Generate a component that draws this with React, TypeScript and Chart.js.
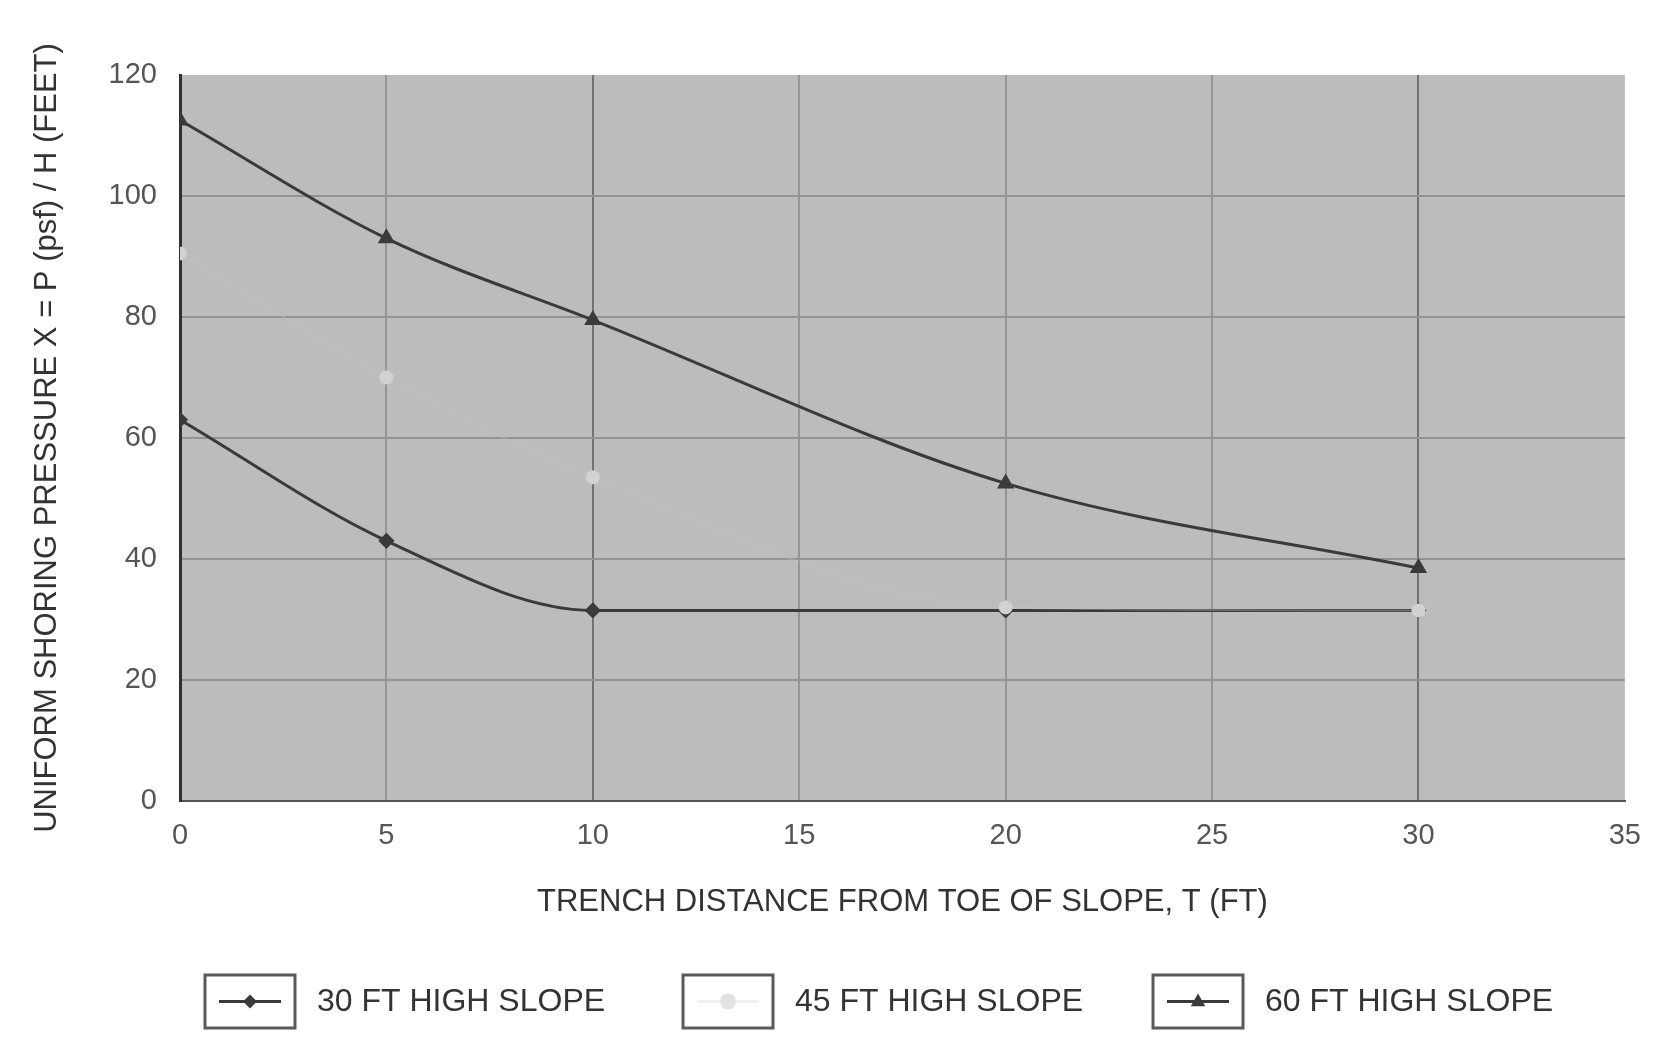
import React, { useEffect, useRef } from "react";
import { Chart, registerables } from "chart.js";

Chart.register(...registerables);

const distances = [0, 5, 10, 20, 30];
const slope30 = [63, 43, 31.5, 31.5, 31.5];
const slope45 = [90.5, 70, 53.5, 32, 31.5];
const slope60 = [112.5, 93, 79.5, 52.5, 38.5];
const seriesLabels = ["30 FT HIGH SLOPE", "45 FT HIGH SLOPE", "60 FT HIGH SLOPE"];
const xTitle = "TRENCH DISTANCE FROM TOE OF SLOPE, T (FT)";
const yTitle = "UNIFORM SHORING PRESSURE X = P (psf) / H (FEET)";

const FONT = "'Liberation Sans', Arial, sans-serif";
const DARK = "#3a3a3a";
const LIGHT = "#d2d2d2";

function drawMarker(ctx: CanvasRenderingContext2D, style: string, x: number, y: number, r: number, color: string) {
  ctx.save();
  ctx.fillStyle = color;
  ctx.beginPath();
  if (style === "rectRot") {
    ctx.moveTo(x, y - r);
    ctx.lineTo(x + r, y);
    ctx.lineTo(x, y + r);
    ctx.lineTo(x - r, y);
  } else if (style === "triangle") {
    ctx.moveTo(x, y - r);
    ctx.lineTo(x + r * 0.9, y + r * 0.6);
    ctx.lineTo(x - r * 0.9, y + r * 0.6);
  } else {
    ctx.arc(x, y, r, 0, Math.PI * 2);
  }
  ctx.closePath();
  ctx.fill();
  ctx.restore();
}

const bgPlugin = {
  id: "plotBg",
  beforeDraw(chart: any) {
    const { ctx, chartArea } = chart;
    ctx.save();
    ctx.fillStyle = "#bcbcbc";
    ctx.fillRect(chartArea.left, chartArea.top, chartArea.right - chartArea.left, chartArea.bottom - chartArea.top);
    ctx.restore();
  },
};

const boxLegendPlugin = {
  id: "boxLegend",
  afterDraw(chart: any) {
    const ctx: CanvasRenderingContext2D = chart.ctx;
    const boxX = [205, 683, 1153];
    const boxW = 90;
    const boxTop = 975;
    const boxH = 53;
    const cy = boxTop + boxH / 2;
    chart.data.datasets.forEach((ds: any, i: number) => {
      const bx = boxX[i];
      ctx.save();
      ctx.strokeStyle = "#5a5a5a";
      ctx.lineWidth = 3;
      ctx.strokeRect(bx, boxTop, boxW, boxH);
      ctx.strokeStyle = ds.legendLine;
      ctx.lineWidth = 3;
      ctx.beginPath();
      ctx.moveTo(bx + 14, cy);
      ctx.lineTo(bx + boxW - 14, cy);
      ctx.stroke();
      drawMarker(ctx, ds.pointStyle, bx + boxW / 2, cy, ds.pointRadius + 1, ds.legendMarker);
      ctx.fillStyle = "#333";
      ctx.font = `32px ${FONT}`;
      ctx.textBaseline = "middle";
      ctx.textAlign = "left";
      ctx.fillText(ds.label, bx + boxW + 22, cy + 1);
      ctx.restore();
    });
  },
};

export default function App() {
  const ref = useRef<HTMLCanvasElement>(null);

  useEffect(() => {
    if (!ref.current) return;
    const toPts = (ys: number[]) => distances.map((x, i) => ({ x, y: ys[i] }));
    const chart = new Chart(ref.current, {
      type: "line",
      data: {
        datasets: [
          {
            label: seriesLabels[0],
            data: toPts(slope30),
            borderColor: DARK,
            backgroundColor: DARK,
            borderWidth: 3,
            pointStyle: "rectRot",
            pointRadius: 6,
            pointBackgroundColor: DARK,
            pointBorderColor: DARK,
            cubicInterpolationMode: "monotone",
            order: 1,
            legendLine: DARK,
            legendMarker: DARK,
          } as any,
          {
            label: seriesLabels[1],
            data: toPts(slope45),
            borderColor: "rgba(196,196,196,0.35)",
            backgroundColor: LIGHT,
            borderWidth: 2,
            pointStyle: "circle",
            pointRadius: 7,
            pointBackgroundColor: LIGHT,
            pointBorderColor: LIGHT,
            pointBorderWidth: 0,
            cubicInterpolationMode: "monotone",
            order: 0,
            legendLine: "rgba(235,235,235,0.7)",
            legendMarker: "#e2e2e2",
          } as any,
          {
            label: seriesLabels[2],
            data: toPts(slope60),
            borderColor: DARK,
            backgroundColor: DARK,
            borderWidth: 3,
            pointStyle: "triangle",
            pointRadius: 7,
            pointBackgroundColor: DARK,
            pointBorderColor: DARK,
            cubicInterpolationMode: "monotone",
            order: 2,
            legendLine: DARK,
            legendMarker: DARK,
          } as any,
        ],
      },
      options: {
        responsive: false,
        animation: false,
        events: [],
        layout: { padding: { left: 14, right: 31, top: 75, bottom: 105 } },
        plugins: { legend: { display: false }, tooltip: { enabled: false } },
        scales: {
          x: {
            type: "linear",
            min: 0,
            max: 35,
            ticks: { stepSize: 5, padding: 18, color: "#555", font: { size: 29, family: FONT } },
            grid: {
              drawTicks: false,
              lineWidth: 2,
              color: (c: any) => {
                const v = c.tick ? c.tick.value : -1;
                if (v === 0 || v === 35) return "rgba(0,0,0,0)";
                if (v === 10 || v === 30) return "#727272";
                return "#959595";
              },
            },
            border: { display: true, color: "#555", width: 2 },
            title: {
              display: true,
              text: xTitle,
              color: "#333",
              font: { size: 31, family: FONT },
              padding: { top: 0, bottom: 19 },
            },
            afterFit: (s: any) => {
              s.height = 139;
            },
          },
          y: {
            min: 0,
            max: 120,
            ticks: { stepSize: 20, padding: 23, color: "#555", font: { size: 29, family: FONT } },
            grid: {
              drawTicks: false,
              lineWidth: 2,
              color: (c: any) => {
                const v = c.tick ? c.tick.value : -1;
                if (v === 0 || v === 120) return "rgba(0,0,0,0)";
                return "#939393";
              },
            },
            border: { display: true, color: "#2f2f2f", width: 3 },
            title: {
              display: true,
              text: yTitle,
              color: "#333",
              font: { size: 31, family: FONT },
              padding: { top: 15, bottom: 0 },
            },
            afterFit: (s: any) => {
              s.width = 166;
            },
          },
        },
      },
      plugins: [bgPlugin, boxLegendPlugin],
    });
    return () => chart.destroy();
  }, []);

  return (
    <div style={{ position: "absolute", left: 0, top: 0, width: 1659, height: 1045, background: "#fff" }}>
      <canvas ref={ref} width={1659} height={1045} style={{ display: "block" }} />
    </div>
  );
}
